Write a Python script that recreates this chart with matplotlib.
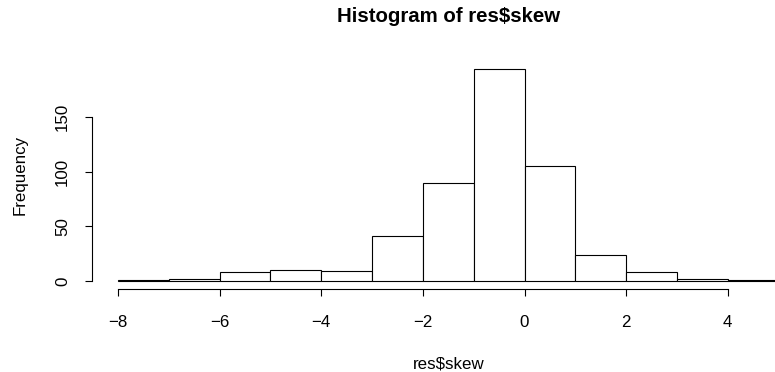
import numpy as np
import matplotlib
matplotlib.use('Agg')
import matplotlib.pyplot as plt

# histogram of res$skew, bins of width 1
bin_edges = [-8, -7, -6, -5, -4, -3, -2, -1, 0, 1, 2, 3, 4, 5]
counts = [1, 2, 8, 10, 9, 41, 90, 194, 105, 24, 8, 2, 1]
x_ticks = [-8, -6, -4, -2, 0, 2, 4]
y_ticks = [0, 50, 100, 150]

plt.rcParams['font.family'] = ['Liberation Sans', 'DejaVu Sans']
fs = 12.2

fig = plt.figure(figsize=(7.75, 3.72), dpi=100)
ax = fig.add_axes([0.1182, 0.2218, 0.9205, 0.6156])

left = np.array(bin_edges[:-1])
widths = np.diff(bin_edges)
ax.bar(left, counts, width=widths, align='edge', color='white',
       edgecolor='black', linewidth=0.8, clip_on=False)

ax.set_xlim(-8.52, 5.52)
ax.set_ylim(-7.76, 201.76)

for s in ['top', 'right']:
    ax.spines[s].set_visible(False)
ax.spines['bottom'].set_bounds(x_ticks[0], x_ticks[-1])
ax.spines['left'].set_bounds(y_ticks[0], y_ticks[-1])
for s in ['bottom', 'left']:
    ax.spines[s].set_linewidth(0.8)

ax.set_xticks(x_ticks)
ax.set_yticks(y_ticks)
ax.tick_params(axis='both', length=5.0, width=0.8, labelsize=fs)
ax.tick_params(axis='x', pad=13.5)
ax.tick_params(axis='y', pad=10.4)
for lab in ax.get_yticklabels():
    lab.set_rotation(90)
    lab.set_va('center')

cx = 0.1182 + 0.9205 / 2
fig.text(cx, 1 - 22 / 372, 'Histogram of res$skew', ha='center', va='baseline',
         fontsize=fs * 1.2, fontweight='bold')
fig.text(cx, 4 / 372, 'res$skew', ha='center', va='baseline', fontsize=fs)
fig.text(20.5 / 775, 1 - 175 / 372, 'Frequency', ha='center', va='center',
         rotation=90, fontsize=fs)

fig.savefig('out.png', dpi=100)
